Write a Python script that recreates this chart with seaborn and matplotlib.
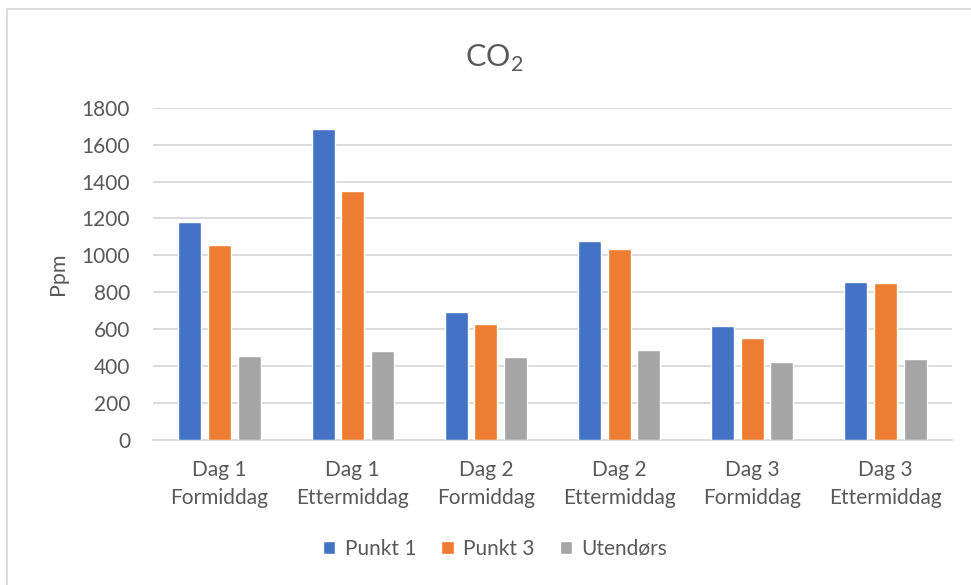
import pandas as pd
import seaborn as sns
import matplotlib.pyplot as plt
from matplotlib.patches import Rectangle

sns.set_theme(style='white')
plt.rcParams['font.family'] = ['Lato', 'DejaVu Sans']
plt.rcParams['mathtext.fontset'] = 'custom'
plt.rcParams['mathtext.rm'] = 'Lato'

# Values (ppm)
categories = ['Dag 1\nFormiddag', 'Dag 1\nEttermiddag', 'Dag 2\nFormiddag',
              'Dag 2\nEttermiddag', 'Dag 3\nFormiddag', 'Dag 3\nEttermiddag']
punkt1 = [1180, 1685, 695, 1077, 618, 855]
punkt3 = [1056, 1348, 627, 1032, 552, 848]
utendors = [451, 479, 450, 485, 421, 437]
series = ['Punkt 1', 'Punkt 3', 'Utendørs']
colors = ['#4472C4', '#ED7D31', '#A5A5A5']

df = pd.DataFrame({'Kategori': categories * 3,
                   'Serie': [s for s in series for _ in categories],
                   'Ppm': punkt1 + punkt3 + utendors})

text_col = '#595959'
grid_col = '#D9D9D9'

fig = plt.figure(figsize=(9.71, 5.85), dpi=100)
ax = fig.add_axes([0.1576, 0.2487, 0.8228, 0.5667])

sns.barplot(data=df, x='Kategori', y='Ppm', hue='Serie', palette=colors,
            width=0.668, gap=0.225, saturation=1, ax=ax, zorder=3)

ax.set_ylim(0, 1800)
ax.set_yticks(range(0, 1801, 200))
ax.yaxis.grid(True, color=grid_col, linewidth=1.3, zorder=0)
ax.set_axisbelow(True)
for s in ['top', 'right', 'left']:
    ax.spines[s].set_visible(False)
ax.spines['bottom'].set_color(grid_col)
ax.spines['bottom'].set_linewidth(1.3)
ax.tick_params(axis='both', length=0, labelsize=15, colors=text_col)
ax.tick_params(axis='y', pad=16.5)
ax.tick_params(axis='x', pad=15)
for lbl in ax.get_xticklabels():
    lbl.set_linespacing(1.45)

ax.set_xlabel('')
ax.set_ylabel('Ppm', fontsize=15.5, color=text_col, labelpad=10)

fig.text(0.509, 0.9, r'CO$_\mathrm{2}$', ha='center', va='center',
         fontsize=22, color=text_col)

ax.legend(loc='center', bbox_to_anchor=(0.51, 0.062), bbox_transform=fig.transFigure,
          ncol=3, frameon=False, fontsize=15, labelcolor=text_col,
          handlelength=0.6, handleheight=0.6, handletextpad=0.45,
          columnspacing=1.2)

# light frame (top and left edges visible in reference)
fig.patches.append(Rectangle((7 / 971, -0.1), 1.2, 1 - 9 / 585 + 0.1,
                             transform=fig.transFigure, fill=False,
                             edgecolor=grid_col, linewidth=1.3))

fig.savefig('out.png', dpi=100)
